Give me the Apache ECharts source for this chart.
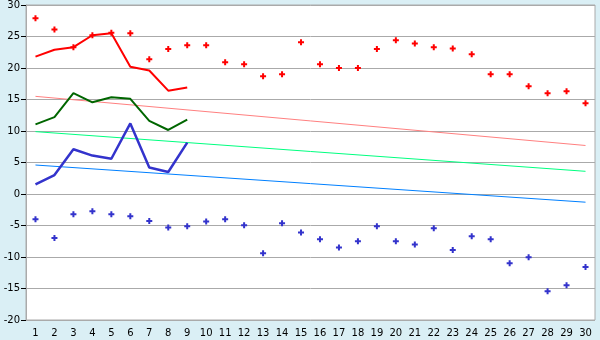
<!DOCTYPE html>
<html>
<head>
<meta charset="utf-8">
<script src="https://cdn.jsdelivr.net/npm/echarts@6/dist/echarts.min.js"></script>
<style>
html,body{margin:0;padding:0;background:#daeff5;}
#c{width:600px;height:340px;}
</style>
</head>
<body>
<div id="c"></div>
<script>
var days = ['1','2','3','4','5','6','7','8','9','10','11','12','13','14','15','16','17','18','19','20','21','22','23','24','25','26','27','28','29','30'];
var yTicks = [-20,-15,-10,-5,0,5,10,15,20,25,30];

var redPoints = [27.9,26.1,23.3,25.2,25.6,25.5,21.4,23.0,23.6,23.6,20.9,20.6,18.7,19.0,24.1,20.6,20.0,20.0,23.0,24.4,23.9,23.3,23.1,22.2,19.0,19.0,17.1,16.0,16.3,14.4];
var bluePoints = [-4.0,-7.0,-3.2,-2.75,-3.2,-3.55,-4.3,-5.3,-5.1,-4.35,-4.0,-4.97,-9.4,-4.65,-6.1,-7.2,-8.5,-7.5,-5.1,-7.5,-8.0,-5.45,-8.9,-6.7,-7.2,-11.0,-10.05,-15.45,-14.5,-11.6];

var redLine = [21.8,22.9,23.3,25.2,25.5,20.2,19.6,16.4,16.9];
var greenLine = [11.06,12.2,16.0,14.55,15.35,15.1,11.6,10.16,11.8];
var blueLine = [1.53,3.0,7.1,6.1,5.6,11.2,4.2,3.5,8.15];

var redTrend = [['1',15.5],['30',7.7]];
var greenTrend = [['1',9.9],['30',3.6]];
var blueTrend = [['1',4.6],['30',-1.3]];

var plus = 'path://M2,0 H4 V2 H6 V4 H4 V6 H2 V4 H0 V2 H2 Z';

var chart = echarts.init(document.getElementById('c'), null, {renderer:'canvas'});
chart.setOption({
  animation:false,
  backgroundColor:'#daeff5',
  textStyle:{fontFamily:'DejaVu Sans'},
  grid:{left:26,right:5,top:5,bottom:20,containLabel:false,show:true,backgroundColor:'#ffffff',borderColor:'#aaaaaa',borderWidth:1},
  xAxis:{
    type:'category',
    data:days,
    boundaryGap:true,
    axisLine:{lineStyle:{color:'#aaaaaa',width:1}},
    axisTick:{alignWithLabel:true,length:5,lineStyle:{color:'#000000'}},
    axisLabel:{color:'#000000',fontSize:10,fontFamily:'DejaVu Sans',margin:8,interval:0},
    splitLine:{show:false}
  },
  yAxis:{
    type:'value',
    min:yTicks[0],
    max:yTicks[yTicks.length-1],
    interval:5,
    axisLine:{show:true,lineStyle:{color:'#aaaaaa',width:1}},
    axisTick:{show:true,length:5,lineStyle:{color:'#000000'}},
    axisLabel:{color:'#000000',fontSize:10,fontFamily:'DejaVu Sans',margin:6},
    splitLine:{show:true,lineStyle:{color:'#aaaaaa',width:1}}
  },
  series:[
    {type:'line',data:redTrend,symbol:'none',lineStyle:{color:'#ff8080',width:1},z:2},
    {type:'line',data:greenTrend,symbol:'none',lineStyle:{color:'#00ff80',width:1},z:2},
    {type:'line',data:blueTrend,symbol:'none',lineStyle:{color:'#0080ff',width:1},z:2},
    {type:'line',data:redLine,symbol:'none',lineStyle:{color:'#ff0000',width:2},z:3},
    {type:'line',data:greenLine,symbol:'none',lineStyle:{color:'#006600',width:2},z:3},
    {type:'line',data:blueLine,symbol:'none',lineStyle:{color:'#3333cc',width:2.5},z:3},
    {type:'scatter',data:redPoints,symbol:plus,symbolSize:6,itemStyle:{color:'#ff0000',opacity:1},z:4},
    {type:'scatter',data:bluePoints,symbol:plus,symbolSize:6,itemStyle:{color:'#3333cc',opacity:1},z:4}
  ]
});
</script>
</body>
</html>
